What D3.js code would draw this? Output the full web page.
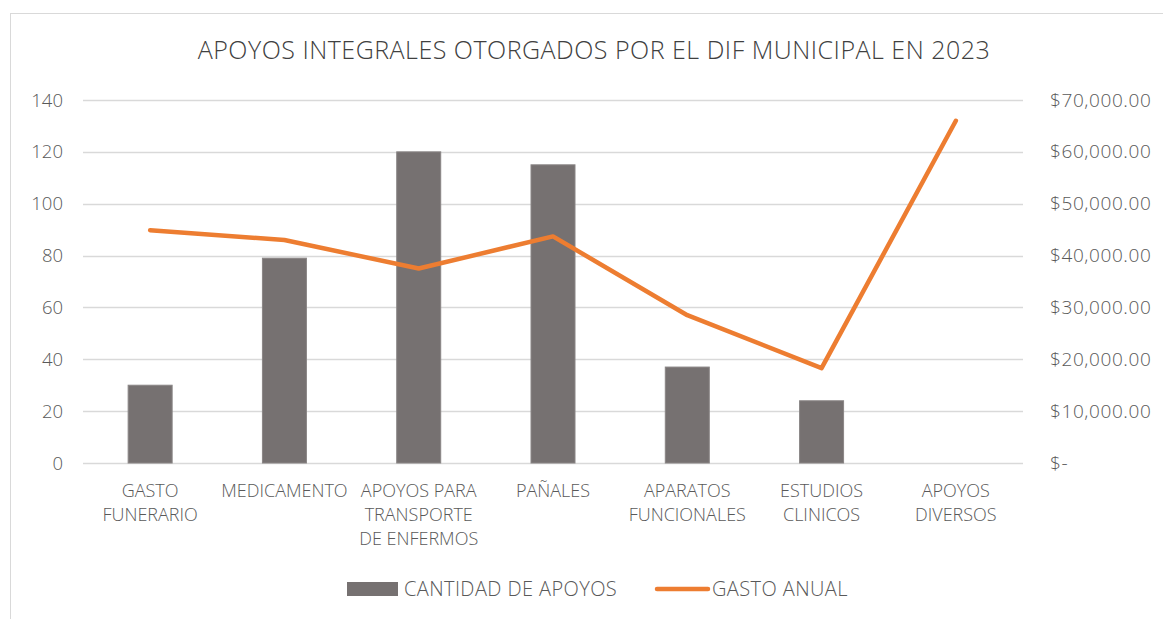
<!DOCTYPE html>
<html>
<head>
<meta charset="utf-8">
<script src="https://cdn.jsdelivr.net/npm/d3@7"></script>
<style>
body { margin: 0; background: #fff; }
text { font-family: "Open Sans", sans-serif; font-weight: 300; fill: #595959; }
</style>
</head>
<body>
<div class="chart"></div>
<script>
// data
const categorias = [["GASTO", "FUNERARIO"], ["MEDICAMENTO"], ["APOYOS PARA", "TRANSPORTE", "DE ENFERMOS"],
	["PAÑALES"], ["APARATOS", "FUNCIONALES"], ["ESTUDIOS", "CLINICOS"], ["APOYOS", "DIVERSOS"]];
const cantidad = [30, 79, 120, 115, 37, 24, 0];
const gasto = [44900, 43000, 37500, 43700, 28500, 18300, 66000];
const leftTicks = [0, 20, 40, 60, 80, 100, 120, 140];
const rightTicks = [0, 10000, 20000, 30000, 40000, 50000, 60000, 70000];

const width = 1163, height = 619;
const margin = {top: 100, right: 140, bottom: 156, left: 83};

const svg = d3.select(".chart").append("svg")
	.attr("width", width)
	.attr("height", height);

// chart frame
svg.append("rect")
	.attr("x", 10.5).attr("y", 13.5)
	.attr("width", 1170).attr("height", 620)
	.attr("fill", "none")
	.attr("stroke", "#d9d9d9");

svg.append("text")
	.attr("x", 594).attr("y", 59)
	.attr("text-anchor", "middle")
	.style("font-size", "25px")
	.style("letter-spacing", "0.5px")
	.style("fill", "#404040")
	.text("APOYOS INTEGRALES OTORGADOS POR EL DIF MUNICIPAL EN 2023");

const x = d3.scaleBand().domain(d3.range(categorias.length)).range([margin.left, 1023]);
const yscale = d3.scaleLinear().domain([0, 140]).range([463, 100]);
const y2 = d3.scaleLinear().domain([0, 70000]).range([463, 100]);

// gridlines
svg.append("g").selectAll("line")
	.data(leftTicks)
	.enter().append("line")
		.attr("x1", margin.left).attr("x2", 1023)
		.attr("y1", d => Math.round(yscale(d)) + 0.5)
		.attr("y2", d => Math.round(yscale(d)) + 0.5)
		.attr("stroke", "#d9d9d9")
		.attr("stroke-width", 1.3);

// left axis
svg.append("g").selectAll("text")
	.data(leftTicks)
	.enter().append("text")
		.attr("x", 63).attr("y", d => yscale(d) + 6.5)
		.attr("text-anchor", "end")
		.style("font-size", "18.5px")
		.text(d => d);

// right axis
const money = d3.format(",.2f");
svg.append("g").selectAll("text")
	.data(rightTicks)
	.enter().append("text")
		.attr("x", 1050).attr("y", d => y2(d) + 6.5)
		.style("font-size", "19px")
		.style("letter-spacing", "0.6px")
		.text(d => d === 0 ? "$-" : "$" + money(d));

// bars
svg.append("g").selectAll("rect")
	.data(cantidad)
	.enter().append("rect")
		.attr("x", (d, i) => x(i) + x.bandwidth() / 2 - 22)
		.attr("width", 44)
		.attr("y", d => yscale(d))
		.attr("height", d => yscale(0) - yscale(d))
		.attr("fill", "#767171")
		.attr("stroke", d => d > 0 ? "#8a8686" : "none")
		.attr("stroke-width", 1);

// line
const line = d3.line()
	.x((d, i) => x(i) + x.bandwidth() / 2)
	.y(d => y2(d));
svg.append("path")
	.datum(gasto)
	.attr("d", line)
	.attr("fill", "none")
	.attr("stroke", "#ED7D31")
	.attr("stroke-width", 4.5)
	.attr("stroke-linejoin", "round")
	.attr("stroke-linecap", "round");

// category labels
const cat = svg.append("g").selectAll("text")
	.data(categorias)
	.enter().append("text")
		.attr("text-anchor", "middle")
		.style("font-size", "18px");
cat.selectAll("tspan")
	.data((d, i) => d.map(s => ({s: s, i: i})))
	.enter().append("tspan")
		.attr("x", d => x(d.i) + x.bandwidth() / 2)
		.attr("y", (d, j) => 497 + j * 24)
		.text(d => d.s);

// legend
const legend = svg.append("g");
legend.append("rect")
	.attr("x", 347).attr("y", 582)
	.attr("width", 51).attr("height", 14)
	.attr("fill", "#767171");
legend.append("text")
	.attr("x", 404).attr("y", 596)
	.style("font-size", "20px")
	.style("letter-spacing", "0.4px")
	.text("CANTIDAD DE APOYOS");
legend.append("line")
	.attr("x1", 657).attr("x2", 708)
	.attr("y1", 589).attr("y2", 589)
	.attr("stroke", "#ED7D31")
	.attr("stroke-width", 4.5)
	.attr("stroke-linecap", "round");
legend.append("text")
	.attr("x", 712).attr("y", 596)
	.style("font-size", "20px")
	.style("letter-spacing", "0.4px")
	.text("GASTO ANUAL");
</script>
</body>
</html>
